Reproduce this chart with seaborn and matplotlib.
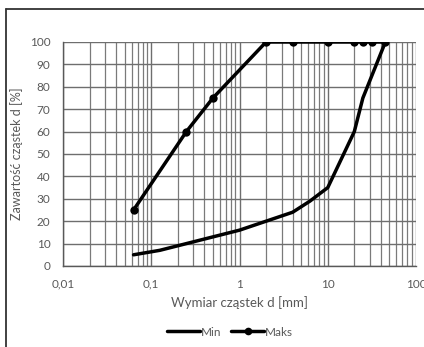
import matplotlib
matplotlib.use("Agg")
import matplotlib.pyplot as plt
import matplotlib.ticker as mticker
from matplotlib.lines import Line2D
import seaborn as sns
import pandas as pd
import numpy as np

# Data
min_d = [0.063, 0.125, 0.25, 0.5, 1, 2, 4, 6.3, 10, 20, 25, 45]
min_pct = [5, 7, 10, 13, 16, 20, 24, 29, 35, 60, 75, 100]
maks_d = [0.063, 0.25, 0.5, 2, 4, 10, 20, 25, 31.5, 45]
maks_pct = [25, 60, 75, 100, 100, 100, 100, 100, 100, 100]
x_ticks = [0.01, 0.1, 1, 10, 100]
x_tick_labels = ["0,01", "0,1", "1", "10", "100"]
y_ticks = list(range(0, 101, 10))

sns.set_theme(style="white")
plt.rcParams['font.family'] = ['Lato', 'DejaVu Sans']

df_min = pd.DataFrame({"d": min_d, "p": min_pct, "s": "Min"})
df_maks = pd.DataFrame({"d": maks_d, "p": maks_pct, "s": "Maks"})

fig = plt.figure(figsize=(4.24, 3.47), dpi=100)
ax = fig.add_axes([63/424, 1-266/347, (416-63)/424, (266-42)/347])

txt = "#595959"
ax.set_xscale("log")
ax.set_xlim(0.01, 100)
ax.set_ylim(0, 100)

# grid
ax.grid(True, which="major", axis="both", color="#6e6e6e", linewidth=1.0)
ax.grid(True, which="minor", axis="x", color="#7a7a7a", linewidth=0.9)
ax.set_axisbelow(True)

sns.lineplot(data=df_min, x="d", y="p", ax=ax, sort=False, color="black",
             linewidth=2.5, legend=False, zorder=3)
sns.lineplot(data=df_maks, x="d", y="p", ax=ax, sort=False, color="black",
             linewidth=2.5, marker="o", markersize=6, markeredgewidth=0,
             legend=False, zorder=4)

ax.set_xticks(x_ticks)
ax.set_xticklabels(x_tick_labels)
ax.xaxis.set_minor_locator(mticker.LogLocator(base=10, subs=np.arange(2, 10)))
ax.xaxis.set_minor_formatter(mticker.NullFormatter())
ax.set_yticks(y_ticks)
ax.tick_params(axis="both", which="both", labelsize=8.5, colors=txt, length=0)
ax.tick_params(axis="x", pad=9)
ax.tick_params(axis="y", pad=9)
for lab in ax.get_xticklabels() + ax.get_yticklabels():
    lab.set_color(txt)

for s in ["top", "right"]:
    ax.spines[s].set_visible(False)
for s in ["left", "bottom"]:
    ax.spines[s].set_color("#595959")
    ax.spines[s].set_linewidth(1.0)

ax.set_xlabel("Wymiar cząstek d [mm]", fontsize=9.5, color=txt, labelpad=5)
ax.set_ylabel("Zawartość cząstek d [%]", fontsize=9, color=txt, labelpad=5)

handles = [Line2D([], [], color="black", linewidth=2.5),
           Line2D([], [], color="black", linewidth=2.5, marker="o",
                  markersize=5.5, markeredgewidth=0)]
leg = fig.legend(handles, ["Min", "Maks"], loc="center", ncol=2,
                 bbox_to_anchor=(230/424, 1-332/347), frameon=False,
                 fontsize=8.5, handlelength=2.8, handletextpad=0.1,
                 columnspacing=0.8)
for t in leg.get_texts():
    t.set_color(txt)

# outer chart border (left and top visible)
fig.add_artist(Line2D([6/424, 6/424], [0, 1-9/347], transform=fig.transFigure,
                      color="#333333", linewidth=1.3))
fig.add_artist(Line2D([6/424, 1], [1-9/347, 1-9/347], transform=fig.transFigure,
                      color="#333333", linewidth=1.3))

fig.savefig("out.png", dpi=100)
